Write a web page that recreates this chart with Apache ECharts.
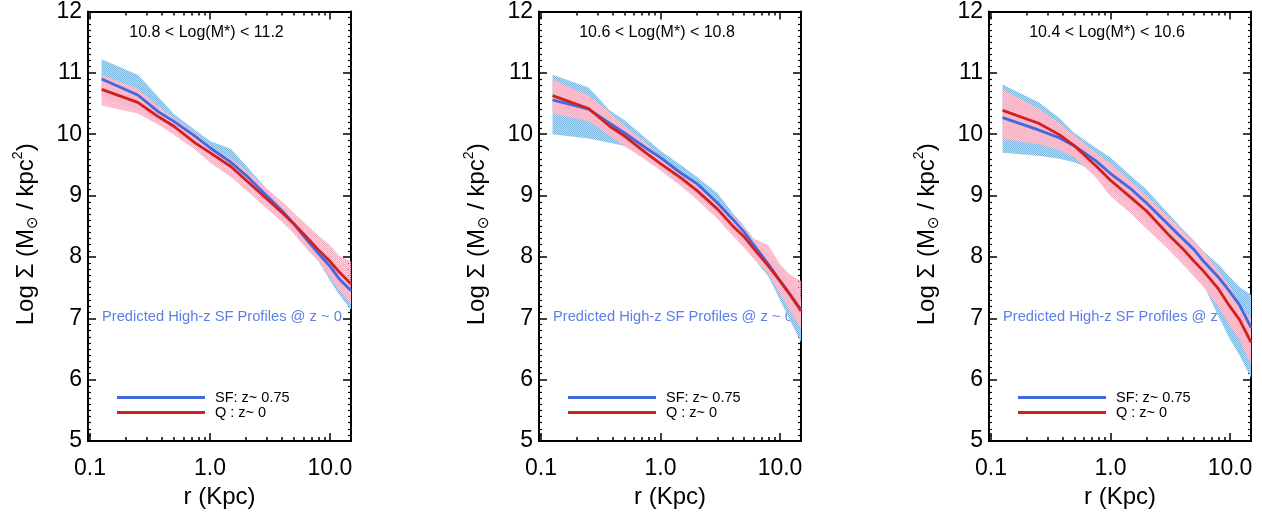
<!DOCTYPE html>
<html><head><meta charset="utf-8">
<script src="https://cdn.jsdelivr.net/npm/echarts@6/dist/echarts.min.js"></script>
<style>html,body{margin:0;padding:0;background:#fff}#c{width:1262px;height:514px}</style>
</head><body><div id="c"></div>
<script>
// ---------- data ----------
const radiusKpc = [0.125, 0.25, 0.375, 0.5, 0.75, 1, 1.5, 2, 3, 4, 5, 6, 8, 10, 12, 15];
const panelTitles = ['10.8 < Log(M*) < 11.2', '10.6 < Log(M*) < 10.8', '10.4 < Log(M*) < 10.6'];
const sfName = 'SF: z~ 0.75';
const qName = 'Q : z~ 0';
const annotation = 'Predicted High-z SF Profiles @ z ~ 0';
const xTickValues = [0.1, 1, 10];
const xTickLabels = ['0.1', '1.0', '10.0'];
const xMinorValues = [0.2, 0.3, 0.4, 0.5, 0.6, 0.7, 0.8, 0.9, 2, 3, 4, 5, 6, 7, 8, 9];
const yMin = 5, yMax = 12, yStep = 1;

const sf1   = [10.90, 10.64, 10.36, 10.21, 9.97, 9.78, 9.54, 9.33, 8.99, 8.75, 8.54, 8.35, 8.06, 7.85, 7.64, 7.45];
const q1    = [10.73, 10.52, 10.28, 10.13, 9.86, 9.70, 9.47, 9.25, 8.94, 8.72, 8.54, 8.38, 8.12, 7.93, 7.75, 7.56];
const sf1Hi = [11.22, 10.97, 10.60, 10.33, 10.07, 9.89, 9.76, 9.49, 9.09, 8.80, 8.58, 8.40, 8.10, 7.90, 7.68, 7.48];
const sf1Lo = [10.60, 10.40, 10.22, 10.08, 9.88, 9.68, 9.44, 9.24, 8.88, 8.64, 8.42, 8.22, 7.94, 7.62, 7.38, 7.14];
const q1Hi  = [10.97, 10.74, 10.45, 10.26, 10.02, 9.81, 9.60, 9.41, 9.11, 8.90, 8.72, 8.58, 8.35, 8.19, 8.01, 7.93];
const q1Lo  = [10.47, 10.34, 10.15, 9.99, 9.75, 9.54, 9.30, 9.09, 8.78, 8.57, 8.38, 8.19, 7.93, 7.67, 7.45, 7.24];

const sf2   = [10.56, 10.41, 10.18, 10.02, 9.78, 9.62, 9.36, 9.20, 8.88, 8.62, 8.41, 8.20, 7.88, 7.61, 7.40, 7.14];
const q2    = [10.63, 10.42, 10.13, 9.97, 9.70, 9.52, 9.28, 9.09, 8.78, 8.51, 8.33, 8.14, 7.85, 7.61, 7.40, 7.12];
const sf2Hi = [10.97, 10.76, 10.39, 10.23, 9.94, 9.73, 9.49, 9.31, 9.04, 8.72, 8.50, 8.30, 8.04, 7.83, 7.60, 7.30];
const sf2Lo = [10.00, 9.93, 9.86, 9.81, 9.62, 9.45, 9.22, 9.02, 8.70, 8.42, 8.20, 7.98, 7.68, 7.30, 6.98, 6.61];
const q2Hi  = [10.89, 10.63, 10.36, 10.13, 9.86, 9.62, 9.38, 9.20, 8.91, 8.67, 8.48, 8.30, 8.19, 7.88, 7.72, 7.61];
const q2Lo  = [10.34, 10.21, 9.98, 9.81, 9.58, 9.41, 9.15, 8.94, 8.62, 8.35, 8.15, 7.98, 7.72, 7.40, 7.14, 6.82];

const sf3   = [10.27, 10.07, 9.94, 9.81, 9.57, 9.36, 9.10, 8.88, 8.54, 8.30, 8.12, 7.93, 7.67, 7.43, 7.22, 6.85];
const q3    = [10.39, 10.18, 9.99, 9.81, 9.49, 9.25, 8.96, 8.75, 8.38, 8.14, 7.93, 7.77, 7.48, 7.19, 6.98, 6.61];
const sf3Hi = [10.81, 10.52, 10.26, 10.02, 9.78, 9.62, 9.31, 9.10, 8.72, 8.46, 8.27, 8.09, 7.88, 7.67, 7.51, 7.38];
const sf3Lo = [9.70, 9.65, 9.60, 9.54, 9.40, 9.10, 8.85, 8.60, 8.25, 8.00, 7.75, 7.55, 7.03, 6.66, 6.40, 6.03];
const q3Hi  = [10.73, 10.42, 10.18, 9.97, 9.70, 9.52, 9.22, 8.99, 8.67, 8.43, 8.25, 8.09, 7.77, 7.51, 7.24, 6.98];
const q3Lo  = [9.92, 9.84, 9.74, 9.62, 9.30, 8.99, 8.70, 8.46, 8.14, 7.88, 7.68, 7.51, 7.19, 6.87, 6.66, 6.24];

// ---------- build ----------
const panels = [
  {sf: sf1, q: q1, sfHi: sf1Hi, sfLo: sf1Lo, qHi: q1Hi, qLo: q1Lo},
  {sf: sf2, q: q2, sfHi: sf2Hi, sfLo: sf2Lo, qHi: q2Hi, qLo: q2Lo},
  {sf: sf3, q: q3, sfHi: sf3Hi, sfLo: sf3Lo, qHi: q3Hi, qLo: q3Lo}
];
const FONT = '"Liberation Sans", Arial, Helvetica, sans-serif';
const BLUE = '#4169e1', RED = '#d21f1f';

function makePattern(cells) {
  const c = document.createElement('canvas');
  c.width = 2; c.height = 2;
  const ctx = c.getContext('2d');
  cells.forEach((col, k) => { if (col) { ctx.fillStyle = col; ctx.fillRect(k % 2, Math.floor(k / 2), 1, 1); } });
  return {image: c, repeat: 'repeat'};
}
const BAND_BLUE = makePattern(['#7ab4da', '#c0ddef', '#c0ddef', '#7ab4da']);
const BAND_PINK = makePattern(['#f4b4c5', '#f7c3d0', 'rgba(245,185,200,0.55)', '#f4b4c5']);

const lg = v => Math.log10(v);
const xMinLog = -1.0167, xMaxLog = 1.1755;
const gridPos = [{left: 88, width: 263}, {left: 539, width: 262}, {left: 989, width: 262}];
const gTop = 7, gHeight = 441;

const grid = [], xAxis = [], yAxis = [], series = [], legend = [], graphic = [];
const fmtX = v => { const i = xTickValues.findIndex(t => Math.abs(lg(t) - v) < 1e-6); return i >= 0 ? xTickLabels[i] : ''; };

function bandSeries(xi, yi, hi, lo, fill, z) {
  const rows = radiusKpc.map((r, k) => [lg(r), lo[k], hi[k]]);
  return {
    type: 'custom', xAxisIndex: xi, yAxisIndex: yi, data: rows, z: z, silent: true,
    encode: {x: 0, y: [1, 2]},
    renderItem: (params, api) => {
      if (params.dataIndex !== 0) return null;
      const top = rows.map(d => api.coord([d[0], d[2]]));
      const bot = rows.map(d => api.coord([d[0], d[1]])).reverse();
      return {type: 'polygon', shape: {points: top.concat(bot)}, style: {fill: fill, stroke: null}};
    }
  };
}

panels.forEach((p, i) => {
  const g = gridPos[i];
  grid.push({left: g.left, top: gTop, width: g.width, height: gHeight, containLabel: false});
  const baseX = {type: 'value', gridIndex: i, min: xMinLog, max: xMaxLog, splitLine: {show: false}};
  const major = xTickValues.map(lg), minor = xMinorValues.map(lg);
  xAxis.push(Object.assign({}, baseX, {
    position: 'bottom',
    axisLine: {show: true, onZero: false, lineStyle: {color: '#000', width: 2}},
    axisTick: {show: true, inside: true, length: 8, customValues: major, lineStyle: {color: '#000', width: 1.5}},
    axisLabel: {show: true, customValues: major, formatter: fmtX, color: '#000', fontSize: 23, fontFamily: FONT, margin: 16},
    name: 'r (Kpc)', nameLocation: 'middle', nameGap: 42,
    nameTextStyle: {color: '#000', fontSize: 24, fontFamily: FONT}
  }));
  xAxis.push(Object.assign({}, baseX, {
    position: 'bottom', axisLine: {show: false, onZero: false},
    axisTick: {show: true, inside: true, length: 4, customValues: minor, lineStyle: {color: '#000', width: 1.5}},
    axisLabel: {show: false}
  }));
  xAxis.push(Object.assign({}, baseX, {
    position: 'top',
    axisLine: {show: true, onZero: false, lineStyle: {color: '#000', width: 2}},
    axisTick: {show: true, inside: true, length: 8, customValues: major, lineStyle: {color: '#000', width: 1.5}},
    axisLabel: {show: false}
  }));
  xAxis.push(Object.assign({}, baseX, {
    position: 'top', axisLine: {show: false, onZero: false},
    axisTick: {show: true, inside: true, length: 4, customValues: minor, lineStyle: {color: '#000', width: 1.5}},
    axisLabel: {show: false}
  }));
  const baseY = {type: 'value', gridIndex: i, min: yMin, max: yMax, interval: yStep, splitLine: {show: false},
    axisLine: {show: true, onZero: false, lineStyle: {color: '#000', width: 2}},
    axisTick: {show: true, inside: true, length: 8, lineStyle: {color: '#000', width: 1.5}},
    minorTick: {show: true, splitNumber: 10, length: 3, lineStyle: {color: '#000', width: 1.2}},
    minorSplitLine: {show: false}};
  yAxis.push(Object.assign({}, baseY, {
    position: 'left',
    axisLabel: {show: true, color: '#000', fontSize: 23, fontFamily: FONT, margin: 6},
    name: '{t|Log Σ (M}{s|⊙}{t| / kpc}{p|2}{t|)}',
    nameLocation: 'middle', nameGap: 47, nameRotate: 90,
    nameTextStyle: {padding: [0, 16, 0, 0], rich: {
      t: {fontSize: 24, fontFamily: FONT, color: '#000', lineHeight: 30},
      s: {fontSize: 15, fontFamily: '"DejaVu Sans", sans-serif', color: '#000', lineHeight: 15, verticalAlign: 'bottom'},
      p: {fontSize: 14, fontFamily: FONT, color: '#000', lineHeight: 14, verticalAlign: 'top'}
    }}
  }));
  yAxis.push(Object.assign({}, baseY, {position: 'right', axisLabel: {show: false}}));

  const xi = i * 4, yi = i * 2;
  const pts = arr => radiusKpc.map((r, k) => [lg(r), arr[k]]);
  series.push(bandSeries(xi, yi, p.sfHi, p.sfLo, BAND_BLUE, 1));
  series.push(bandSeries(xi, yi, p.qHi, p.qLo, BAND_PINK, 2));
  series.push({type: 'line', name: sfName, xAxisIndex: xi, yAxisIndex: yi, data: pts(p.sf), symbol: 'none', color: BLUE, lineStyle: {color: BLUE, width: 2.8}, z: 3, silent: true});
  series.push({type: 'line', name: qName, xAxisIndex: xi, yAxisIndex: yi, data: pts(p.q), symbol: 'none', color: RED, lineStyle: {color: RED, width: 2.8}, z: 4, silent: true});

  legend.push({data: [sfName, qName], orient: 'vertical', left: g.left + 24, top: 385, icon: 'rect',
    itemWidth: 88, itemHeight: 3, itemGap: 0, selectedMode: false,
    textStyle: {color: '#000', fontSize: 14.5, fontFamily: FONT, lineHeight: 15, padding: [0, 0, 0, 5]}});

  graphic.push({type: 'text', x: g.left + g.width / 2 - 13, y: 33, z: 10,
    style: {text: panelTitles[i], fill: '#000', font: '16px ' + FONT, textAlign: 'center', textVerticalAlign: 'middle'}});
  graphic.push({type: 'text', x: g.left + 14, y: 317, z: 0, zlevel: 0,
    style: {text: annotation, fill: '#5b7fe6', font: '14.7px ' + FONT, textAlign: 'left', textVerticalAlign: 'middle'}});
});

const chart = echarts.init(document.getElementById('c'), null, {renderer: 'canvas'});
chart.setOption({animation: false, backgroundColor: '#fff', grid, xAxis, yAxis, series, legend, graphic});
</script>
</body></html>
